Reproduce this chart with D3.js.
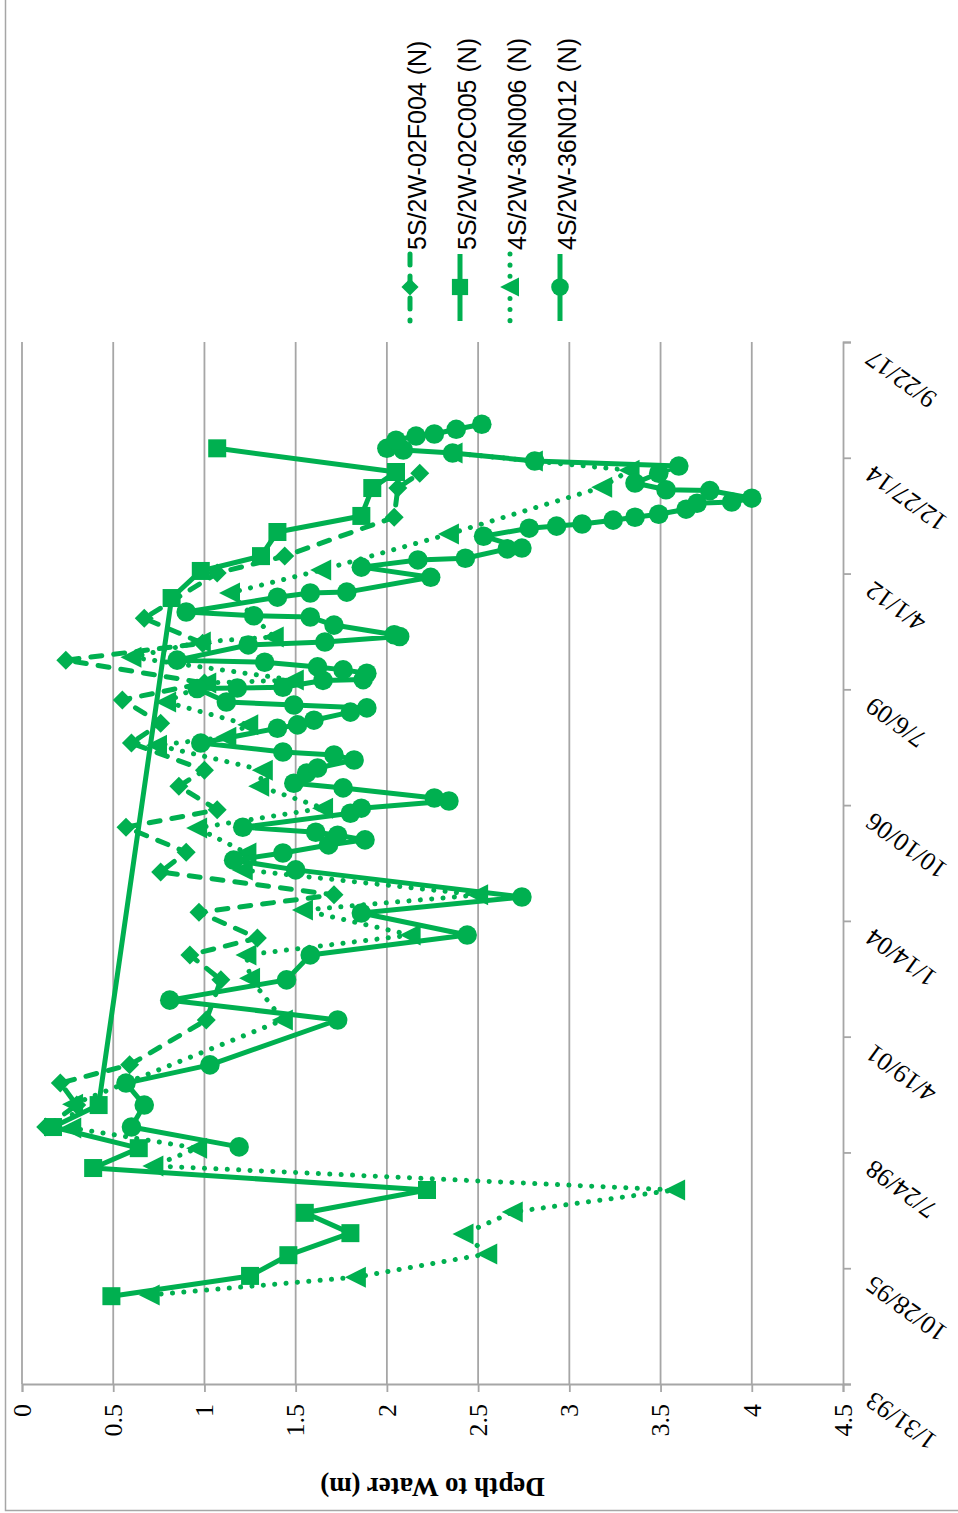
<!DOCTYPE html>
<html><head><meta charset="utf-8">
<script src="https://cdn.jsdelivr.net/npm/d3@7"></script>
<style>body{margin:0;background:#fff}svg{display:block}</style>
</head><body>
<svg id="chart" width="958" height="1513"></svg>
<script>
// ---- data (dates as decimal years, depth to water in m) ----
const seriesNames = ["5S/2W-02F004 (N)", "5S/2W-02C005 (N)", "4S/2W-36N006 (N)", "4S/2W-36N012 (N)"];
const depthTicks = [0, 0.5, 1, 1.5, 2, 2.5, 3, 3.5, 4, 4.5];
const dateTicks = ["1993-01-31","1995-10-28","1998-07-24","2001-04-19","2004-01-14","2006-10-10","2009-07-06","2012-04-01","2014-12-27","2017-09-22"];

const f004Dates = [1999.16,1999.68,2000.20,2000.63,2001.69,2002.64,2003.23,2003.63,2004.24,2004.65,2005.19,2005.66,2006.25,2006.66,2007.22,2007.60,2008.24,2008.71,2009.26,2009.66,2010.20,2010.60,2011.19,2012.26,2012.66,2013.58,2014.27,2014.62];
const f004Depth = [0.13,0.30,0.21,0.59,1.01,1.09,0.92,1.29,0.97,1.71,0.76,0.90,0.57,1.07,0.86,1.00,0.60,0.76,0.55,1.00,0.24,0.99,0.67,1.07,1.44,2.04,2.06,2.18];

const c005Dates = [1995.16,1995.64,1996.13,1996.65,1997.13,1997.67,1998.19,1998.66,1999.16,1999.68,2011.67,2012.31,2012.66,2013.23,2013.61,2014.27,2014.65,2015.21];
const c005Depth = [0.49,1.25,1.46,1.80,1.55,2.22,0.39,0.64,0.17,0.42,0.82,0.98,1.31,1.40,1.86,1.92,2.05,1.07];

const n006Dates = [1995.19,1995.61,1996.16,1996.63,1997.15,1997.67,1998.24,1998.66,1999.14,1999.70,2001.69,2002.68,2003.23,2003.70,2004.29,2004.65,2005.24,2005.64,2006.23,2006.70,2007.22,2007.60,2008.19,2008.38,2008.67,2009.21,2009.66,2009.73,2010.27,2010.63,2010.75,2011.79,2012.33,2013.18,2014.29,2014.69,2014.91,2015.10];
const n006Depth = [0.70,1.83,2.55,2.42,2.69,3.58,0.72,0.96,0.27,0.28,1.43,1.25,1.23,2.13,1.54,2.50,1.21,1.23,0.96,1.65,1.30,1.32,0.74,1.12,1.24,0.79,1.01,1.49,0.60,0.98,1.38,1.14,1.64,2.34,3.18,3.33,2.80,2.36];

const n012Dates = [1998.69,1999.16,1999.68,2000.20,2000.63,2001.69,2002.16,2002.64,2003.23,2003.70,
  2004.22,2004.60,2005.24,2005.47,2005.64,2005.83,2005.95,2006.06,2006.13,2006.25,
  2006.58,2006.70,2006.87,2006.94,2007.18,2007.29,2007.53,2007.65,2007.84,2007.96,
  2008.03,2008.24,2008.59,2008.67,2008.78,2008.97,2009.07,2009.14,2009.21,2009.53,
  2009.54,2009.56,2009.72,2009.74,2009.89,2009.97,2010.04,2010.15,2010.20,2010.56,
  2010.63,2010.76,2010.80,2011.03,2011.22,2011.25,2011.34,2011.69,2011.79,2011.81,2012.16,
  2012.40,2012.57,2012.61,2012.83,2012.85,2013.13,2013.32,2013.37,2013.42,2013.51,
  2013.58,2013.65,2013.77,2013.91,2013.94,2014.03,2014.21,2014.23,2014.39,2014.62,
  2014.79,2014.91,2015.10,2015.17,2015.21,2015.40,2015.50,2015.55,2015.66,2015.78];
const n012Depth = [1.19,0.60,0.67,0.57,1.03,1.73,0.81,1.45,1.58,2.44,
  1.86,2.74,1.50,1.16,1.43,1.68,1.88,1.73,1.61,1.21,
  1.80,1.86,2.34,2.26,1.76,1.49,1.56,1.62,1.82,1.71,
  1.43,0.98,1.40,1.51,1.60,1.80,1.89,1.49,1.12,0.96,
  1.18,1.43,1.65,1.87,1.89,1.76,1.62,1.33,0.85,1.24,
  1.66,2.07,2.04,1.71,1.58,1.27,0.90,1.40,1.58,1.78,2.24,
  1.86,2.17,2.43,2.66,2.74,2.53,2.78,2.93,3.07,3.24,
  3.36,3.49,3.64,3.70,3.89,4.00,3.77,3.53,3.36,3.49,
  3.60,2.81,2.36,2.09,2.00,2.05,2.16,2.26,2.38,2.52];

// ---- helpers ----
const GREEN = "#00B050";
function decYear(v){
  const yr = Math.floor(v);
  const a = new Date(yr,0,1), b = new Date(yr+1,0,1);
  return new Date(a.getTime() + (v-yr)*(b-a));
}
function zip(ds, vs){ return ds.map((d,i)=>({date:decYear(d), depth:vs[i]})); }
const parseD = d3.timeParse("%Y-%m-%d");
const fmtD = d3.timeFormat("%-m/%-d/%y");

const series = [
  {name:seriesNames[0], data:zip(f004Dates,f004Depth), marker:"diamond", dash:"11,12"},
  {name:seriesNames[1], data:zip(c005Dates,c005Depth), marker:"square", dash:null},
  {name:seriesNames[2], data:zip(n006Dates,n006Depth), marker:"triangle", dash:"0.1,11.3"},
  {name:seriesNames[3], data:zip(n012Dates,n012Depth), marker:"circle", dash:null}
];

const markerPath = {
  diamond: "M0,-9.5L9.5,0L0,9.5L-9.5,0Z",
  square: "M-9,-9H9V9H-9Z",
  triangle: "M-11,0L10,-10.5L10,10.5Z",
  circle: d3.symbol().type(d3.symbolCircle).size(Math.PI*9.8*9.8)()
};

// ---- scales (chart drawn rotated: depth runs left->right, time runs bottom->top) ----
const x = d3.scaleLinear().domain([0,4.5]).range([22,843]);
const y = d3.scaleTime().domain([parseD(dateTicks[0]), parseD(dateTicks[dateTicks.length-1])]).range([1384,342]);

const svg = d3.select("#chart");

// outer frame (left and bottom edges visible)
svg.append("rect").attr("x",5.5).attr("y",-5).attr("width",960).attr("height",1515.5)
  .attr("fill","#fff").attr("stroke","#A6A6A6").attr("stroke-width",1.5);

// gridlines (value axis)
svg.append("g").selectAll("line").data(depthTicks.slice(0,-1)).join("line")
  .attr("x1",d=>x(d)).attr("x2",d=>x(d)).attr("y1",y.range()[1]).attr("y2",y.range()[0])
  .attr("stroke","#A6A6A6").attr("stroke-width",1.8);

// depth axis (bottom)
const gx = svg.append("g").attr("transform",`translate(0,${y.range()[0]})`)
  .call(d3.axisBottom(x).tickValues(depthTicks).tickSize(8).tickFormat(d3.format("")));
gx.select(".domain").attr("stroke","#A6A6A6").attr("stroke-width",1.8);
gx.selectAll(".tick line").attr("stroke","#A6A6A6").attr("stroke-width",1.8);
gx.selectAll(".tick text")
  .attr("font-family","'Liberation Serif','DejaVu Serif',serif").attr("font-size",26).attr("fill","#000")
  .attr("text-anchor","end").attr("y",0).attr("dy","0.32em")
  .attr("transform","translate(0,20) rotate(-90)");

// date axis (right side)
const gy = svg.append("g").attr("transform",`translate(${x.range()[1]},0)`)
  .call(d3.axisRight(y).tickValues(dateTicks.map(parseD)).tickSize(8).tickFormat(fmtD));
gy.select(".domain").attr("stroke","#A6A6A6").attr("stroke-width",1.8);
gy.selectAll(".tick line").attr("stroke","#A6A6A6").attr("stroke-width",1.8);
gy.selectAll(".tick text")
  .attr("font-family","'Liberation Serif','DejaVu Serif',serif").attr("font-size",26).attr("fill","#000")
  .attr("text-anchor","end").attr("x",0).attr("y",0).attr("dy","0")
  .attr("transform","translate(31,6) rotate(-144)");

// axis title
svg.append("text").text("Depth to Water (m)")
  .attr("transform",`translate(${(x.range()[0]+x.range()[1])/2},1478) rotate(180)`)
  .attr("text-anchor","middle").attr("font-family","'Liberation Serif','DejaVu Serif',serif")
  .attr("font-weight","bold").attr("font-size",27).attr("fill","#000");

// series
const line = d3.line().x(d=>x(d.depth)).y(d=>y(d.date));
series.forEach(s=>{
  const g = svg.append("g");
  g.append("path").datum(s.data).attr("d",line).attr("fill","none")
    .attr("stroke",GREEN).attr("stroke-width",5).attr("stroke-linejoin","round")
    .attr("stroke-linecap", s.dash ? "round" : "butt")
    .attr("stroke-dasharray", s.dash);
  g.selectAll("path.m").data(s.data).join("path").attr("class","m")
    .attr("d",markerPath[s.marker]).attr("fill",GREEN)
    .attr("transform",d=>`translate(${x(d.depth)},${y(d.date)})`);
});

// legend (rotated, along top)
const legX = [410, 460, 510, 560];
series.forEach((s,i)=>{
  const g = svg.append("g").attr("transform",`translate(${legX[i]},0)`);
  g.append("line").attr("x1",0).attr("x2",0).attr("y1",254).attr("y2",321)
    .attr("stroke",GREEN).attr("stroke-width",5)
    .attr("stroke-linecap", s.dash ? "round" : "butt").attr("stroke-dasharray", s.dash ? (s.marker==="diamond" ? "11,11" : "0.1,11") : null);
  g.append("path").attr("d",markerPath[s.marker]).attr("fill",GREEN)
    .attr("transform","translate(0,287) scale(0.9)");
  g.append("text").text(s.name)
    .attr("transform","translate(16,250) rotate(-90)")
    .attr("font-family","'Liberation Sans','Open Sans',sans-serif").attr("font-size",25).attr("fill","#000");
});
</script>
</body></html>
